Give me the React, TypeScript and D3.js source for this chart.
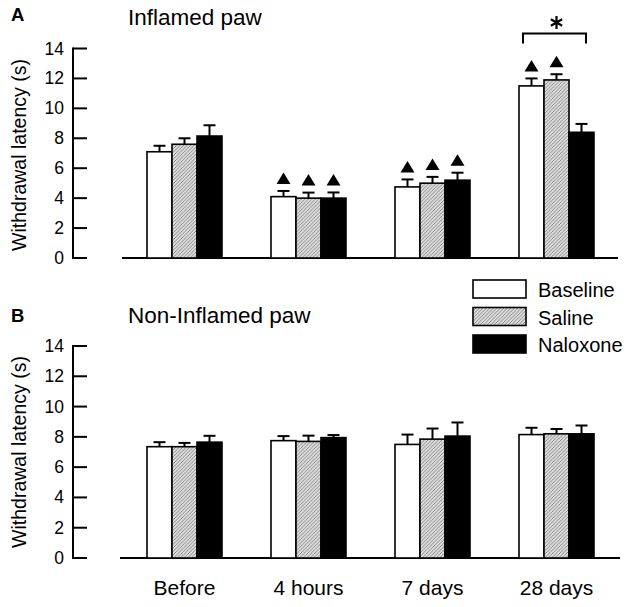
import React from "react";
import * as d3 from "d3";

const categories = ["Before", "4 hours", "7 days", "28 days"];
const seriesNames = ["Baseline", "Saline", "Naloxone"];

// Panel A: Inflamed paw (mean, SEM)
const inflamedBaseline = [7.1, 4.1, 4.75, 11.5];
const inflamedSaline = [7.6, 4.0, 5.0, 11.9];
const inflamedNaloxone = [8.15, 4.0, 5.2, 8.4];
const inflamedBaselineErr = [0.4, 0.38, 0.5, 0.5];
const inflamedSalineErr = [0.4, 0.37, 0.42, 0.38];
const inflamedNaloxoneErr = [0.72, 0.38, 0.5, 0.56];
// triangle markers (significant vs. before)
const inflamedBaselineSig = [false, true, true, true];
const inflamedSalineSig = [false, true, true, true];
const inflamedNaloxoneSig = [false, true, true, false];

// Panel B: Non-Inflamed paw
const nonInflamedBaseline = [7.35, 7.75, 7.5, 8.15];
const nonInflamedSaline = [7.35, 7.7, 7.85, 8.2];
const nonInflamedNaloxone = [7.65, 7.95, 8.05, 8.2];
const nonInflamedBaselineErr = [0.3, 0.3, 0.65, 0.45];
const nonInflamedSalineErr = [0.25, 0.38, 0.7, 0.32];
const nonInflamedNaloxoneErr = [0.42, 0.17, 0.9, 0.55];

const yTicks = [0, 2, 4, 6, 8, 10, 12, 14];

const FONT = "'Liberation Sans', Arial, Helvetica, sans-serif";

type Panel = {
  letter: string;
  title: string;
  means: number[][];
  errs: number[][];
  sig: boolean[][] | null;
  yTop: number;
  yBottom: number;
  titleY: number;
  letterY: number;
  labelCenter: number;
  axisX0: number;
  axisX1: number;
  bracket: boolean;
};

const panels: Panel[] = [
  {
    letter: "A",
    title: "Inflamed paw",
    means: [inflamedBaseline, inflamedSaline, inflamedNaloxone],
    errs: [inflamedBaselineErr, inflamedSalineErr, inflamedNaloxoneErr],
    sig: [inflamedBaselineSig, inflamedSalineSig, inflamedNaloxoneSig],
    yTop: 48.5,
    yBottom: 258,
    titleY: 25,
    letterY: 21,
    labelCenter: 155,
    axisX0: 122,
    axisX1: 618,
    bracket: true,
  },
  {
    letter: "B",
    title: "Non-Inflamed paw",
    means: [nonInflamedBaseline, nonInflamedSaline, nonInflamedNaloxone],
    errs: [nonInflamedBaselineErr, nonInflamedSalineErr, nonInflamedNaloxoneErr],
    sig: null,
    yTop: 346,
    yBottom: 558,
    titleY: 323,
    letterY: 322,
    labelCenter: 452,
    axisX0: 120,
    axisX1: 620,
    bracket: false,
  },
];

const fills = ["#ffffff", "url(#hatch)", "#000000"];

export default function App() {
  const width = 630;
  const height = 607;
  const x = d3.scaleBand<string>().domain(categories).range([122.5, 618.5]).paddingInner(0).paddingOuter(0);
  const sub = d3.scaleBand<string>().domain(seriesNames).range([-37.5, 37.5]).padding(0);
  const barW = sub.bandwidth();
  const center = (c: string) => (x(c) as number) + x.bandwidth() / 2;
  const axisX = 73;
  const tickLen = 14;
  const capW = 12;

  const asterisk = d3.symbol().type(d3.symbolAsterisk).size(120)();

  return (
    <svg width={width} height={height} style={{ position: "absolute", left: 0, top: 0, background: "#fff" }} fontFamily={FONT}>
      <defs>
        <pattern id="hatch" width="3.5" height="3.5" patternUnits="userSpaceOnUse">
          <rect width="3.5" height="3.5" fill="#e0e0e0" />
          <path d="M-1,1 L1,-1 M0,3.5 L3.5,0 M2.5,4.5 L4.5,2.5" stroke="#6a6a6a" strokeWidth="0.8" />
        </pattern>
      </defs>
      {panels.map((p, pi) => {
        const y = d3.scaleLinear().domain([0, 14]).range([p.yBottom, p.yTop]);
        return (
          <g key={pi}>
            <text x={11} y={p.letterY} fontSize={18.5} fontWeight="bold">{p.letter}</text>
            <text x={128} y={p.titleY} fontSize={22.5}>{p.title}</text>
            <text
              transform={`translate(26,${p.labelCenter}) rotate(-90)`}
              textAnchor="middle"
              fontSize={19.5}
            >
              Withdrawal latency (s)
            </text>
            {/* y axis */}
            <line x1={axisX} x2={axisX} y1={y(14) - 1} y2={y(0) + 1} stroke="#000" strokeWidth={2} />
            {yTicks.map((t) => (
              <g key={t}>
                <line x1={axisX} x2={axisX + tickLen} y1={y(t)} y2={y(t)} stroke="#000" strokeWidth={2} />
                <text x={64} y={y(t) + 6} textAnchor="end" fontSize={17.5}>{t}</text>
              </g>
            ))}
            {/* x axis line */}
            <line x1={p.axisX0} x2={p.axisX1} y1={y(0)} y2={y(0)} stroke="#000" strokeWidth={2} />
            {/* bars */}
            {categories.map((c, ci) => (
              <g key={c}>
                {seriesNames.map((s, si) => {
                  const m = p.means[si][ci];
                  const e = p.errs[si][ci];
                  const bx = center(c) + (sub(s) as number);
                  const cx = bx + barW / 2;
                  const top = y(m);
                  const eTop = y(m + e);
                  const showTri = p.sig ? p.sig[si][ci] : false;
                  return (
                    <g key={s}>
                      <line x1={cx} x2={cx} y1={top} y2={eTop} stroke="#000" strokeWidth={2} />
                      <line x1={cx - capW / 2} x2={cx + capW / 2} y1={eTop} y2={eTop} stroke="#000" strokeWidth={2} />
                      <rect x={bx} y={top} width={barW} height={y(0) - top} fill={fills[si]} stroke="#000" strokeWidth={1.6} />
                      {showTri && (
                        <path
                          d={`M${cx - 7},${eTop - 7} L${cx + 7},${eTop - 7} L${cx},${eTop - 18.5} Z`}
                          fill="#000"
                        />
                      )}
                    </g>
                  );
                })}
              </g>
            ))}
            {p.bracket && (() => {
              const c = categories[3];
              const x0 = center(c) + (sub(seriesNames[0]) as number) + 4;
              const x1 = center(c) + (sub(seriesNames[2]) as number) + barW - 8;
              const by = 33.5;
              return (
                <g>
                  <path d={`M${x0},${by + 10} L${x0},${by} L${x1},${by} L${x1},${by + 10}`} fill="none" stroke="#000" strokeWidth={2} />
                  <path d={asterisk as string} transform={`translate(${(x0 + x1) / 2 + 2},${by - 11})`} fill="none" stroke="#000" strokeWidth={2.2} />
                </g>
              );
            })()}
          </g>
        );
      })}
      {/* category labels */}
      {categories.map((c) => (
        <text key={c} x={center(c)} y={595} textAnchor="middle" fontSize={21}>{c}</text>
      ))}
      {/* legend */}
      {seriesNames.map((s, i) => (
        <g key={s}>
          <rect x={473} y={280 + i * 27.5} width={53} height={18} fill={fills[i]} stroke="#000" strokeWidth={1.6} />
          <text x={538} y={297 + i * 27.5} fontSize={20}>{s}</text>
        </g>
      ))}
    </svg>
  );
}
